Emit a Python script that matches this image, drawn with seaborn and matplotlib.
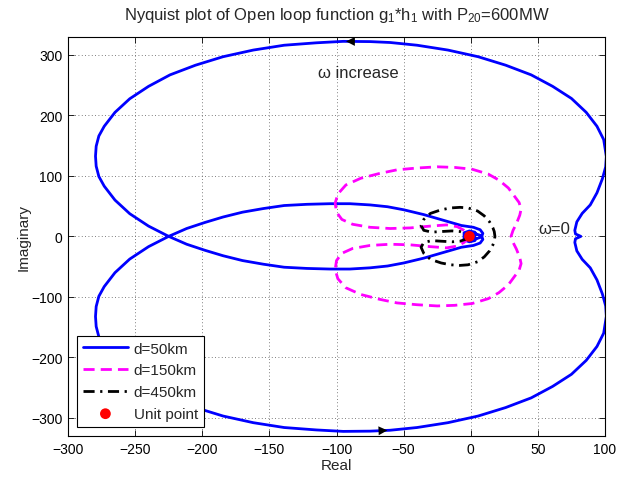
import numpy as np
import pandas as pd
import matplotlib
matplotlib.use("Agg")
import matplotlib.pyplot as plt
import seaborn as sns

# Open-loop frequency response g1*h1, positive-frequency branch (omega: 0 -> inf).
# The negative-frequency branch is the complex conjugate of each curve.
d50_re = [82, 78, 77.5, 79, 83, 89, 94, 98, 100.5, 101, 99, 94, 86, 75, 61, 45, 26,
          5.5, -17, -40, -60, -75, -95, -115, -139, -162, -184.5, -205, -224, -240,
          -254, -265, -273, -277, -279, -279.5, -279, -277, -273, -265, -254, -240,
          -225, -211.6, -198, -184.5, -170, -154.5, -139, -122, -105, -90, -75, -62,
          -50, -35, -18, -7, 2, 7, 9, 8, 4, -1, -5, -5, -1, 3, 4, 2]
d50_im = [0, 4, 10, 24, 38, 52, 72, 95, 115, 132, 160, 182, 205, 228, 248, 267, 283,
          297, 308, 316, 320.5, 322, 322.4, 320, 316, 308, 297, 283, 267, 248,
          227.5, 205, 182, 166, 149, 132.5, 116, 99, 83, 60, 37.5, 17,
          0, -13, -23, -32, -40, -46, -51, -53, -54, -54, -52, -49,
          -44, -36, -25, -18, -15, -11, -5, 1, 4, 3, -1, -6, -9, -7, -3, -1]

d150_re = [30, 31.5, 34, 36.5, 37.5, 36, 32, 28, 21, 13, 1, -12, -25, -40, -55, -68,
           -82, -93, -99, -101, -100, -96, -88, -75, -60, -45, -30, -18, -10, -5, -2, -1]
d150_im = [0, 10, 21, 35, 45, 56, 68, 80, 93, 103, 111, 114, 115, 113, 110, 104,
           96, 85, 70, 55, 40, 28, 20, 15, 13, 14, 17, 19, 16, 10, 4, 0]

d450_re = [18, 17.5, 16.5, 14, 10, 5, -2, -8, -15, -22, -30, -35, -37, -35, -29,
           -22, -14, -8, -4, -2, -1]
d450_im = [0, 8, 14, 24, 34, 42, 47, 48, 47, 44, 38, 28, 18, 10, 7,
           8, 9, 8, 5, 2, 0]

unit_re = [-1]
unit_im = [0]

labels = ["d=50km", "d=150km", "d=450km", "Unit point"]

sns.set_style("ticks")
plt.rcParams["font.family"] = ["Liberation Sans", "DejaVu Sans"]
plt.rcParams["mathtext.fontset"] = "custom"
plt.rcParams["mathtext.rm"] = "Liberation Sans"
plt.rcParams["mathtext.it"] = "Liberation Sans"
plt.rcParams["axes.unicode_minus"] = True
plt.rcParams["lines.solid_joinstyle"] = "round"
plt.rcParams["lines.dash_joinstyle"] = "round"


def full_contour(re, im):
    """Join the conjugate branch (omega < 0) with the omega > 0 branch."""
    re = np.asarray(re, float)
    im = np.asarray(im, float)
    x = np.concatenate([re[::-1], re[1:]])
    y = np.concatenate([-im[::-1], im[1:]])
    return pd.DataFrame({"Real": x, "Imaginary": y, "order": np.arange(len(x))})


fig = plt.figure(figsize=(6.18, 4.81), dpi=100)
ax = fig.add_axes([0.110, 0.0915, 0.869, 0.8300])

lw = 2.0
sns.lineplot(data=full_contour(d50_re, d50_im), x="Real", y="Imaginary", sort=False,
             estimator=None, color="#0000ff", lw=lw, label=labels[0], ax=ax)
sns.lineplot(data=full_contour(d150_re, d150_im), x="Real", y="Imaginary", sort=False,
             estimator=None, color="#ff00ff", lw=lw, label=labels[1], ax=ax)
sns.lineplot(data=full_contour(d450_re, d450_im), x="Real", y="Imaginary", sort=False,
             estimator=None, color="k", lw=lw, label=labels[2], ax=ax)
ax.lines[1].set_dashes((4, 2.2))
ax.lines[2].set_dashes((4, 2, 0.8, 2))
sns.scatterplot(x=unit_re, y=unit_im, color="#ff0000", s=60, edgecolor="none",
                label=labels[3], ax=ax, zorder=5)

# direction arrows on the d=50km contour, placed on its own vertices
i_top = d50_re.index(-95)
tip = (d50_re[i_top], d50_im[i_top])
tail = (d50_re[i_top - 1], d50_im[i_top - 1])
ax.annotate("", xy=tip, xytext=tail,
            arrowprops=dict(arrowstyle="-|>", color="k", lw=0, mutation_scale=16))
i_bot = d50_re.index(-60)
tip_b = (d50_re[i_bot], -d50_im[i_bot])
tail_b = (d50_re[i_bot + 1], -d50_im[i_bot + 1])
ax.annotate("", xy=tip_b, xytext=tail_b,
            arrowprops=dict(arrowstyle="-|>", color="k", lw=0, mutation_scale=16))

ax.text(-114, 271, "\u03c9 increase", fontsize=12, ha="left", va="center")
ax.text(50, 13, "\u03c9=0", fontsize=12, ha="left", va="center")

ax.set_xlim(-300, 100)
ax.set_ylim(-330, 330)
ax.set_xticks(np.arange(-300, 101, 50))
ax.set_yticks(np.arange(-300, 301, 100))
ax.grid(True, color="#555555", linestyle=(0, (1, 3)), linewidth=0.6)
ax.tick_params(direction="in", top=True, right=True, length=4, width=0.6,
               labelsize=10, pad=4, colors="k")
for s in ax.spines.values():
    s.set_visible(True)
    s.set_color("k")
    s.set_linewidth(0.8)

ax.set_xlabel("Real", fontsize=11, labelpad=2)
ax.set_ylabel("Imaginary", fontsize=11, labelpad=0)
ax.set_title("Nyquist plot of Open loop function g$_1$*h$_1$ with P$_{20}$=600MW",
             fontsize=12, pad=13)

leg = ax.legend(loc="lower left", fontsize=11, handlelength=2.9, handletextpad=0.4,
                labelspacing=0.5, borderpad=0.4, borderaxespad=0.6,
                fancybox=False, framealpha=1, edgecolor="k")
leg.get_frame().set_linewidth(0.8)

fig.savefig("out.png", dpi=100)
